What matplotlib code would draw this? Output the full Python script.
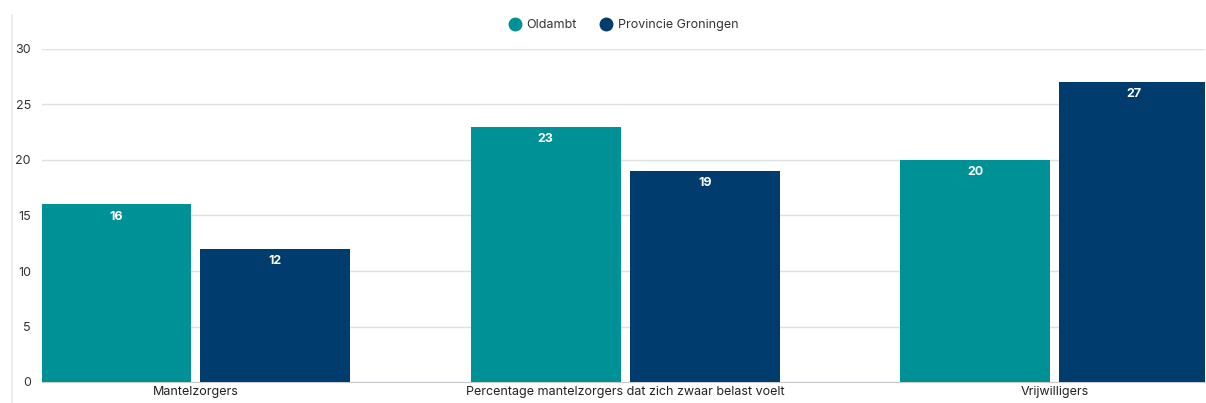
import matplotlib
matplotlib.use("Agg")
import matplotlib.pyplot as plt
from matplotlib.lines import Line2D
import numpy as np

categories = [
    "Mantelzorgers",
    "Percentage mantelzorgers dat zich zwaar belast voelt",
    "Vrijwilligers",
]
series_names = ["Oldambt", "Provincie Groningen"]
oldambt = [16, 23, 20]
groningen = [12, 19, 27]

colors = ["#009196", "#003d6e"]

plt.rcParams["font.family"] = ["Inter", "DejaVu Sans"]

W, H = 1206, 403
fig = plt.figure(figsize=(W / 100, H / 100), dpi=100)
ax = fig.add_axes([42 / W, 1 - 382 / H, (1205 - 42) / W, (382 - 49) / H])

x = np.arange(len(categories))
bw = 0.349
off = 0.185
bars1 = ax.bar(x - off, oldambt, bw, color=colors[0], zorder=3)
bars2 = ax.bar(x + off, groningen, bw, color=colors[1], zorder=3)

for bars in (bars1, bars2):
    for b in bars:
        ax.text(b.get_x() + b.get_width() / 2, b.get_height() - 0.55,
                f"{b.get_height():g}", ha="center", va="top",
                color="white", fontsize=9, fontweight="bold", zorder=4)

ax.set_xlim(-0.358, 2.35)
ax.set_ylim(0, 30)
ax.set_yticks(range(0, 31, 5))
ax.set_xticks(x)
ax.set_xticklabels(categories, fontsize=9, color="#222222")
ax.tick_params(axis="y", labelsize=9, colors="#333333", length=0, pad=8)
ax.tick_params(axis="x", length=0, pad=3)
ax.grid(axis="y", color="#dde0e4", linewidth=1, zorder=0)
for s in ("top", "right", "left"):
    ax.spines[s].set_visible(False)
ax.spines["bottom"].set_color("#c8ccd2")

# faint card border on the left
fig.add_artist(Line2D([12 / W, 12 / W], [0, 1 - 15 / H],
                      color="#e6e8ec", linewidth=1.2, transform=fig.transFigure))

handles = [Line2D([], [], linestyle="none", marker="o", markersize=9,
                  markerfacecolor=c, markeredgecolor=c) for c in colors]
fig.legend(handles=handles, labels=series_names, loc="center",
           bbox_to_anchor=(624 / W, 1 - 25 / H), ncol=2, frameon=False,
           fontsize=9, handlelength=0.8, columnspacing=2.0, handletextpad=0.5,
           labelcolor="#333333")

fig.savefig("out.png", dpi=100)
